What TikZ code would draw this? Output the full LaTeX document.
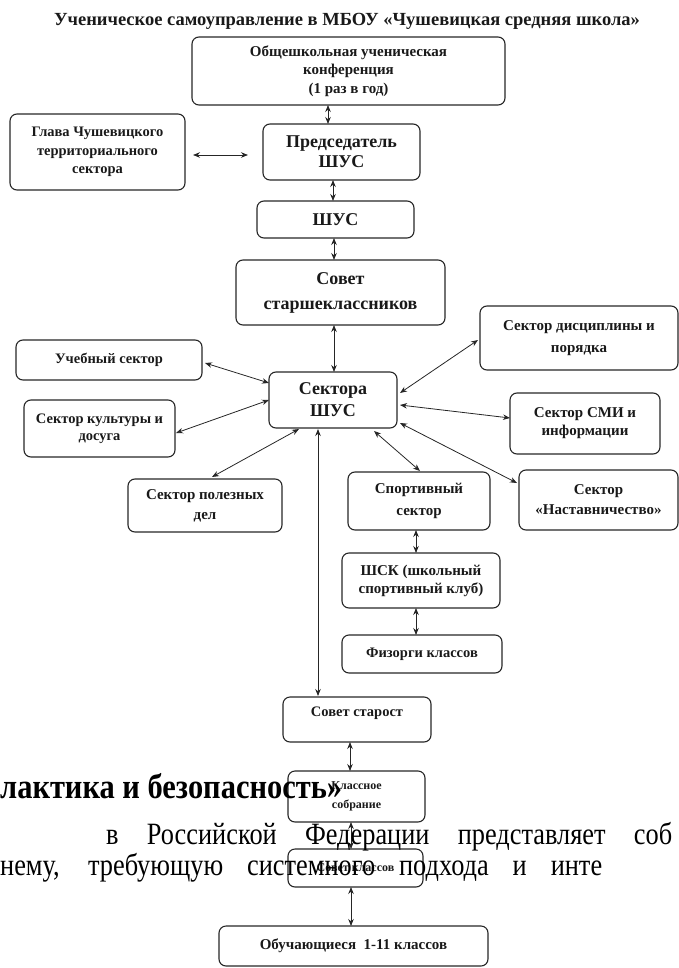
\documentclass[tikz,border=0pt]{standalone}
\usepackage{fontspec}
\setmainfont{Liberation Serif}
\newfontfamily\docfont[FakeStretch=0.85]{Liberation Serif}
\newfontfamily\docbold[FakeStretch=0.87]{Liberation Serif Bold}
\usetikzlibrary{arrows.meta}
\newcommand\fsz[2]{\fontsize{#1}{#2}\selectfont}
\begin{document}
\begin{tikzpicture}[x=1pt,y=-1pt,
  box/.style={draw=black!85, line width=1.1pt, rounded corners=7pt, align=center,
    inner sep=0pt, outer sep=0pt, text=black!90},
  arr/.style={{Stealth[length=7pt,width=5.5pt]}-{Stealth[length=7pt,width=5.5pt]},
    line width=0.8pt, draw=black!85},
  big/.style={font=\fsz{18}{22}\bfseries},
  mid/.style={font=\fsz{15}{18.5}\bfseries},
  doc/.style={inner sep=0pt, text=black}]
\useasboundingbox (0,0) rectangle (679,968);
\clip (0,0) rectangle (679,968);

\node[inner sep=0pt, font=\fsz{18.5}{18.5}\bfseries, text=black!90] (title) at (347,21)
  {Ученическое самоуправление в МБОУ «Чушевицкая средняя школа»};

\node[box, mid, minimum width=313pt, minimum height=68pt] (conf) at (348.5,71)
  {Общешкольная ученическая\\конференция\\(1 раз в год)};
\node[box, font=\fsz{14.5}{18.5}\bfseries, minimum width=175pt, minimum height=76pt] (glava) at (97.5,152)
  {Глава Чушевицкого\\территориального\\сектора};
\node[box, font=\fsz{18}{20}\bfseries, minimum width=157pt, minimum height=56pt] (pred) at (341.5,152)
  {Председатель\\ШУС};
\node[box, big, minimum width=157pt, minimum height=37pt] (shus) at (335.5,219.5) {ШУС};
\node[box, font=\fsz{18}{25}\bfseries, minimum width=209pt, minimum height=65pt] (sovet) at (340.5,292.5)
  {Совет\\старшеклассников};
\node[box, big, minimum width=128pt, minimum height=56pt] (sektora) at (333,400)
  {Сектора\\ШУС};
\node[box, font=\fsz{14.5}{18}\bfseries, minimum width=186pt, minimum height=40pt] (ucheb) at (109,360)
  {Учебный сектор};
\node[box, font=\fsz{14.5}{17}\bfseries, minimum width=151pt, minimum height=57pt] (kult) at (99.5,428.5)
  {Сектор культуры и\\досуга};
\node[box, font=\fsz{15}{22}\bfseries, minimum width=198pt, minimum height=64pt] (disc) at (579,338)
  {Сектор дисциплины и\\порядка};
\node[box, font=\fsz{15}{18}\bfseries, minimum width=150pt, minimum height=61pt] (smi) at (585,423.5)
  {Сектор СМИ и\\информации};
\node[box, font=\fsz{15}{20}\bfseries, minimum width=159pt, minimum height=60pt] (nast) at (598.5,500)
  {Сектор\\«Наставничество»};
\node[box, font=\fsz{15}{20}\bfseries, minimum width=154pt, minimum height=53pt] (polez) at (205,505.5)
  {Сектор полезных\\дел};
\node[box, font=\fsz{15}{22}\bfseries, minimum width=142pt, minimum height=58pt] (sport) at (419,501)
  {Спортивный\\сектор};
\node[box, font=\fsz{15}{18}\bfseries, minimum width=158pt, minimum height=55pt] (shsk) at (421,580.5)
  {ШСК (школьный\\спортивный клуб)};
\node[box, font=\fsz{14.5}{18}\bfseries, minimum width=160pt, minimum height=38pt] (fiz) at (422,654)
  {Физорги классов};
\node[box, font=\fsz{14.5}{18}\bfseries, minimum width=148pt, minimum height=45pt, text depth=16pt] (starost) at (357,719.5)
  {Совет старост};
\node[box, font=\fsz{12}{19}\bfseries, minimum width=137pt, minimum height=51pt] (klass) at (356.5,796.5)
  {Классное\\собрание};
\node[box, font=\fsz{12}{15}\bfseries, minimum width=135pt, minimum height=38pt] (sovkl) at (355.5,868)
  {Совет классов};
\node[box, font=\fsz{15}{18}\bfseries, minimum width=269pt, minimum height=40pt] (obuch) at (353.5,946)
  {Обучающиеся\ \ 1-11 классов};

\draw[arr] ([xshift=-20.5pt]conf.south) -- ([xshift=-13.5pt]pred.north);
\draw[arr, shorten <=8pt, shorten >=15pt] ([yshift=-3pt]glava.east) -- ([yshift=-3pt]pred.west);
\draw[arr] ([xshift=-8.5pt]pred.south) -- ([xshift=-2.5pt]shus.north);
\draw[arr] ([xshift=-1.5pt]shus.south) -- ([xshift=-6.5pt]sovet.north);
\draw[arr] ([xshift=-6.5pt]sovet.south) -- ([xshift=1pt]sektora.north);
\draw[arr] ([yshift=17pt]sektora.west) -- ([xshift=3pt,yshift=-3pt]ucheb.east);
\draw[arr] (sektora.west) -- ([xshift=1pt,yshift=-4.5pt]kult.east);
\draw[arr] ([xshift=-34pt,yshift=-1pt]sektora.south) -- ([xshift=7pt,yshift=2pt]polez.north);
\draw[arr] ([xshift=3pt,yshift=7pt]sektora.east) -- ([xshift=-2pt,yshift=-2pt]disc.west);
\draw[arr] ([xshift=3pt,yshift=-5pt]sektora.east) -- ([yshift=5.5pt]smi.west);
\draw[arr] ([xshift=3pt,yshift=-23pt]sektora.east) -- ([xshift=-2pt,yshift=17pt]nast.west);
\draw[arr] ([xshift=41pt,yshift=-3pt]sektora.south) -- ([xshift=1pt,yshift=1pt]sport.north);
\draw[arr] ([xshift=-15pt,yshift=-1pt]sektora.south) -- ([xshift=-39pt,yshift=1pt]starost.north);
\draw[arr] ([xshift=-3pt]sport.south) -- ([xshift=-5pt]shsk.north);
\draw[arr] ([xshift=-5pt]shsk.south) -- ([xshift=-6pt]fiz.north);
\draw[arr] ([xshift=-7pt]starost.south) -- ([xshift=-6.5pt]klass.north);
\draw[arr] ([xshift=-5.5pt]klass.south) -- ([xshift=-4.5pt]sovkl.north);
\draw[arr] ([xshift=-4.5pt]sovkl.south) -- ([xshift=-2.5pt]obuch.north);

\node[doc, anchor=base west, font=\fsz{35}{35}\docbold] (hd) at (0,798)
  {лактика и безопасность»};
\node[doc, anchor=base west, font=\fsz{31}{31}\docfont] (l1) at (106,844)
  {\makebox[566pt][s]{в Российской Федерации представляет соб}};
\node[doc, anchor=base west, font=\fsz{31}{31}\docfont] (l2) at (0,875)
  {\makebox[602pt][s]{нему, требующую системного подхода и инте}};
\end{tikzpicture}
\end{document}
